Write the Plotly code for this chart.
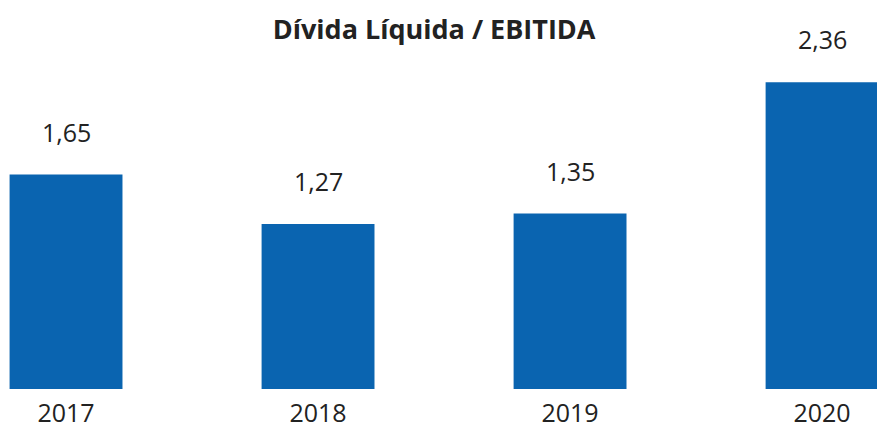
import plotly.graph_objects as go

years = ["2017", "2018", "2019", "2020"]
ratio = [1.65, 1.27, 1.35, 2.36]
labels = ["1,65", "1,27", "1,35", "2,36"]

bar_color = "#0a64b0"
text_color = "#222222"
font_family = "Open Sans"

fig = go.Figure(
    go.Bar(
        x=years,
        y=ratio,
        marker=dict(color=bar_color, line=dict(width=0)),
        hoverinfo="skip",
    )
)

# value labels above the bars (x given as category index)
for i, (val, lab) in enumerate(zip(ratio, labels)):
    fig.add_annotation(
        x=i,
        y=val,
        xref="x",
        yref="y",
        text=lab,
        showarrow=False,
        xanchor="center",
        yanchor="bottom",
        yshift=24,
        font=dict(family=font_family, size=25, color=text_color),
    )

fig.update_layout(
    width=877,
    height=428,
    paper_bgcolor="white",
    plot_bgcolor="white",
    margin=dict(l=0, r=0, t=60, b=39),
    bargap=0.552,
    showlegend=False,
    title=dict(
        text="<b>Dívida Líquida / EBITIDA</b>",
        x=0.495,
        xanchor="center",
        y=0.93,
        yanchor="middle",
        font=dict(family=font_family, size=27, color=text_color),
    ),
    xaxis=dict(
        type="category",
        range=[-0.262, 3.218],
        automargin=False,
        showgrid=False,
        showline=False,
        zeroline=False,
        ticks="",
        ticklabelstandoff=7,
        tickfont=dict(family=font_family, size=25, color=text_color),
    ),
    yaxis=dict(
        range=[0, 2.531],
        automargin=False,
        visible=False,
        showgrid=False,
        zeroline=False,
    ),
)

fig.write_html(
    "out.html",
    config={"displayModeBar": False},
    post_script="document.body.style.margin='0';document.body.style.overflow='hidden';",
)
